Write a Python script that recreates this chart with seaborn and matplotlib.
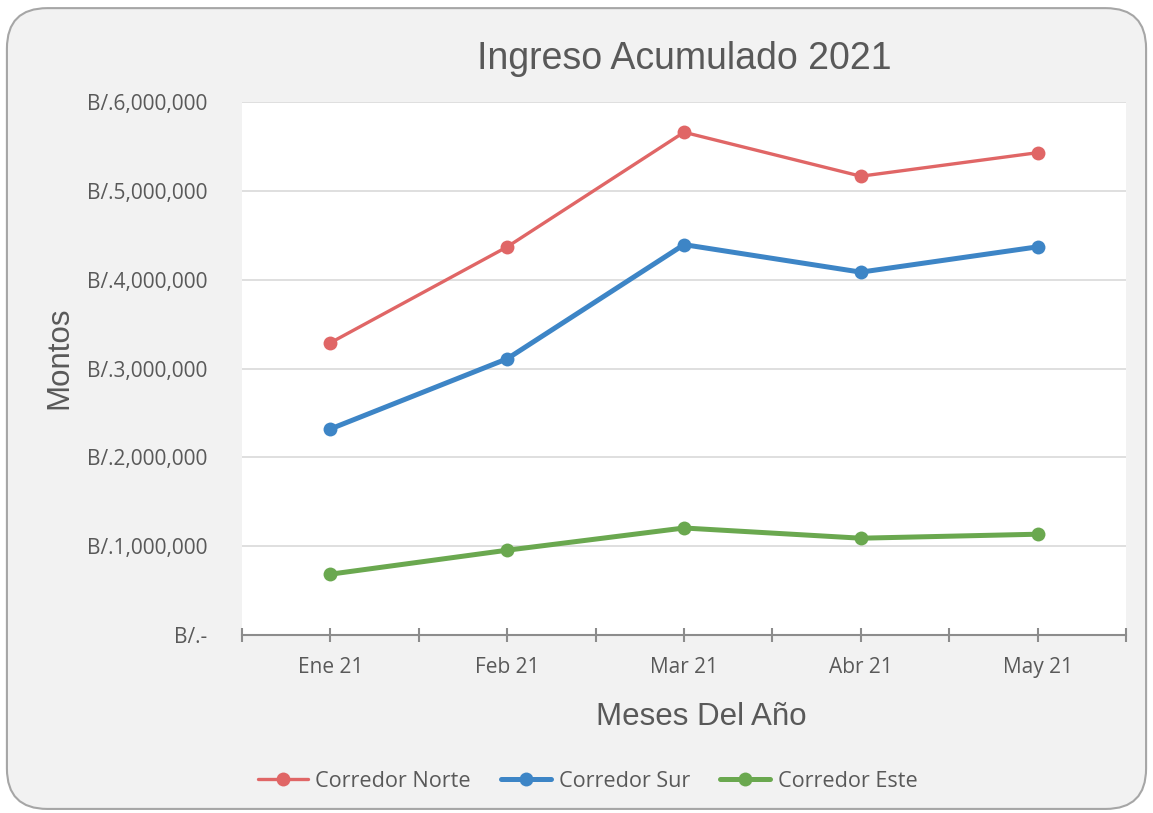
import matplotlib
matplotlib.use("Agg")
import matplotlib.pyplot as plt
import seaborn as sns
import pandas as pd
from matplotlib.patches import FancyBboxPatch
from matplotlib.ticker import FuncFormatter, FixedLocator

meses = ["Ene 21", "Feb 21", "Mar 21", "Abr 21", "May 21"]
norte = [3290000, 4370000, 5660000, 5165000, 5430000]
sur = [2320000, 3110000, 4395000, 4085000, 4370000]
este = [685000, 955000, 1205000, 1090000, 1135000]

series = {"Corredor Norte": norte, "Corredor Sur": sur, "Corredor Este": este}
colores = {"Corredor Norte": "#E06666", "Corredor Sur": "#3D85C6", "Corredor Este": "#6AA84F"}
grosor = {"Corredor Norte": 2.4, "Corredor Sur": 3.6, "Corredor Este": 3.6}

rows = []
for nombre, vals in series.items():
    for i, v in enumerate(vals):
        rows.append({"pos": i, "mes": meses[i], "serie": nombre, "monto": v})
df = pd.DataFrame(rows)

sns.set_style("white")
plt.rcParams["font.family"] = ["Open Sans", "DejaVu Sans"]

fig = plt.figure(figsize=(11.53, 8.13), dpi=100)
fig.patch.set_facecolor("white")
fondo = FancyBboxPatch((0.006, 0.005), 0.988, 0.985, boxstyle="round,pad=0,rounding_size=0.035",
                       transform=fig.transFigure, facecolor="#F2F2F2", edgecolor="#A6A6A6",
                       linewidth=1.5, mutation_aspect=1153 / 813, zorder=-10)
fig.patches.append(fondo)

ax = fig.add_axes([0.2099, 0.2189, 0.7667, 0.6556])
ax.set_facecolor("white")

for nombre in series:
    sns.lineplot(data=df[df["serie"] == nombre], x="pos", y="monto", ax=ax,
                 color=colores[nombre], linewidth=grosor[nombre], marker="o",
                 markersize=10, markeredgewidth=0, label=nombre, zorder=3)

ax.set_xlim(-0.5, len(meses) - 0.5)
ax.set_ylim(0, 6000000)
ax.set_yticks(range(0, 6000001, 1000000))
ax.yaxis.set_major_formatter(FuncFormatter(lambda v, p: "B/.-" if v == 0 else f"B/.{int(v):,}"))
ax.set_xticks(range(len(meses)))
ax.set_xticklabels(meses)
ax.xaxis.set_minor_locator(FixedLocator([i - 0.5 for i in range(len(meses) + 1)]))

ax.grid(axis="y", color="#D9D9D9", linewidth=1.2)
ax.grid(axis="x", visible=False)
for s in ["left", "right", "top"]:
    ax.spines[s].set_visible(False)
ax.spines["bottom"].set_color("#8C8C8C")
ax.spines["bottom"].set_linewidth(1.5)

ax.tick_params(axis="x", which="both", direction="inout", length=10, width=1.5,
               color="#8C8C8C", labelsize=15, labelcolor="#595959", pad=11, bottom=True)
ax.tick_params(axis="y", length=0, labelsize=15, labelcolor="#595959", pad=25)

ax.set_title("Ingreso Acumulado 2021", fontsize=27, color="#595959",
             family=["Liberation Sans", "DejaVu Sans"], pad=24)
ax.set_xlabel("Meses Del Año", fontsize=22.5, color="#595959",
              family=["Liberation Sans", "DejaVu Sans"])
ax.xaxis.set_label_coords(0.519, -0.125)
ax.set_ylabel("Montos", fontsize=22.5, color="#595959",
              family=["Liberation Sans", "DejaVu Sans"])
ax.yaxis.set_label_coords(-0.19, 0.52)

ax.legend(loc="center", bbox_to_anchor=(0.391, -0.274), ncol=3, frameon=False,
          fontsize=15.6, labelcolor="#595959", handlelength=2.3, columnspacing=1.4,
          handletextpad=0.35)

fig.savefig("out.png", dpi=100, facecolor=fig.get_facecolor())
